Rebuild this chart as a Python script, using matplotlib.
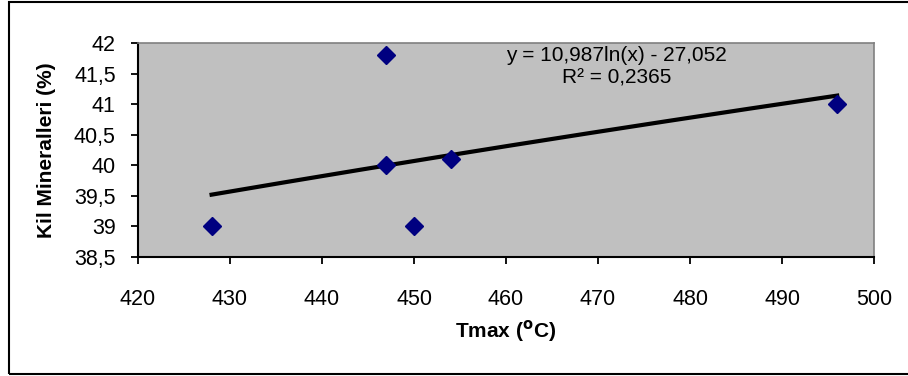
import numpy as np
import matplotlib
matplotlib.use('Agg')
from matplotlib import pyplot as plt
from matplotlib.patches import Rectangle
from matplotlib.ticker import FuncFormatter

# measured points
tmax = [428, 447, 447, 450, 454, 496]
kil = [39.0, 41.8, 40.0, 39.0, 40.1, 41.0]

# logarithmic trendline as printed on the chart
coef_a = 10.987
coef_b = -27.052
r2 = 0.2365

x_ticks = [420, 430, 440, 450, 460, 470, 480, 490, 500]
y_ticks = [38.5, 39, 39.5, 40, 40.5, 41, 41.5, 42]

plt.rcParams['font.family'] = ['Liberation Sans', 'DejaVu Sans']

fig = plt.figure(figsize=(9.08, 3.76), dpi=100)
ax = fig.add_axes([138 / 908, 1 - 257 / 376, 736 / 908, 214 / 376])
ax.set_facecolor('#C0C0C0')

# outer chart border (right edge falls outside the picture)
fig.patches.append(Rectangle((9 / 908, 2 / 376), 1.2, 372 / 376,
                             transform=fig.transFigure, fill=False,
                             edgecolor='black', linewidth=1.5))

# trendline
q = np.linspace(min(tmax), max(tmax), 200)
ax.plot(q, coef_a * np.log(q) + coef_b, '-', color='black', lw=3,
        zorder=2)

ax.plot(tmax, kil, 'D', color='#000080', ms=9, zorder=3, clip_on=False)

ax.text(472, 41.8, 'y = 10,987ln(x) - 27,052', ha='center', va='center',
        fontsize=15)
ax.text(472, 41.43, 'R² = 0,2365', ha='center', va='center',
        fontsize=15)

ax.set_xlim(420, 500)
ax.set_ylim(38.5, 42)
ax.set_xticks(x_ticks)
ax.set_yticks(y_ticks)
ax.yaxis.set_major_formatter(
    FuncFormatter(lambda v, p: ('%g' % v).replace('.', ',')))

for side in ['top', 'right']:
    ax.spines[side].set_color('#808080')
    ax.spines[side].set_linewidth(1.2)
for side in ['left', 'bottom']:
    ax.spines[side].set_color('black')
    ax.spines[side].set_linewidth(1.5)

ax.tick_params(axis='x', direction='out', length=5, width=1.3,
               labelsize=15.5, pad=18)
ax.tick_params(axis='y', direction='out', length=5, width=1.3,
               labelsize=15.5, pad=11)

ax.set_xlabel(r'Tmax ($^{\mathbf{o}}$C)', fontsize=15, fontweight='bold',
              labelpad=6)
ax.set_ylabel('Kil Mineralleri (%)', fontsize=15, fontweight='bold',
              labelpad=13)

plt.savefig('out.png', dpi=100)
plt.close()
